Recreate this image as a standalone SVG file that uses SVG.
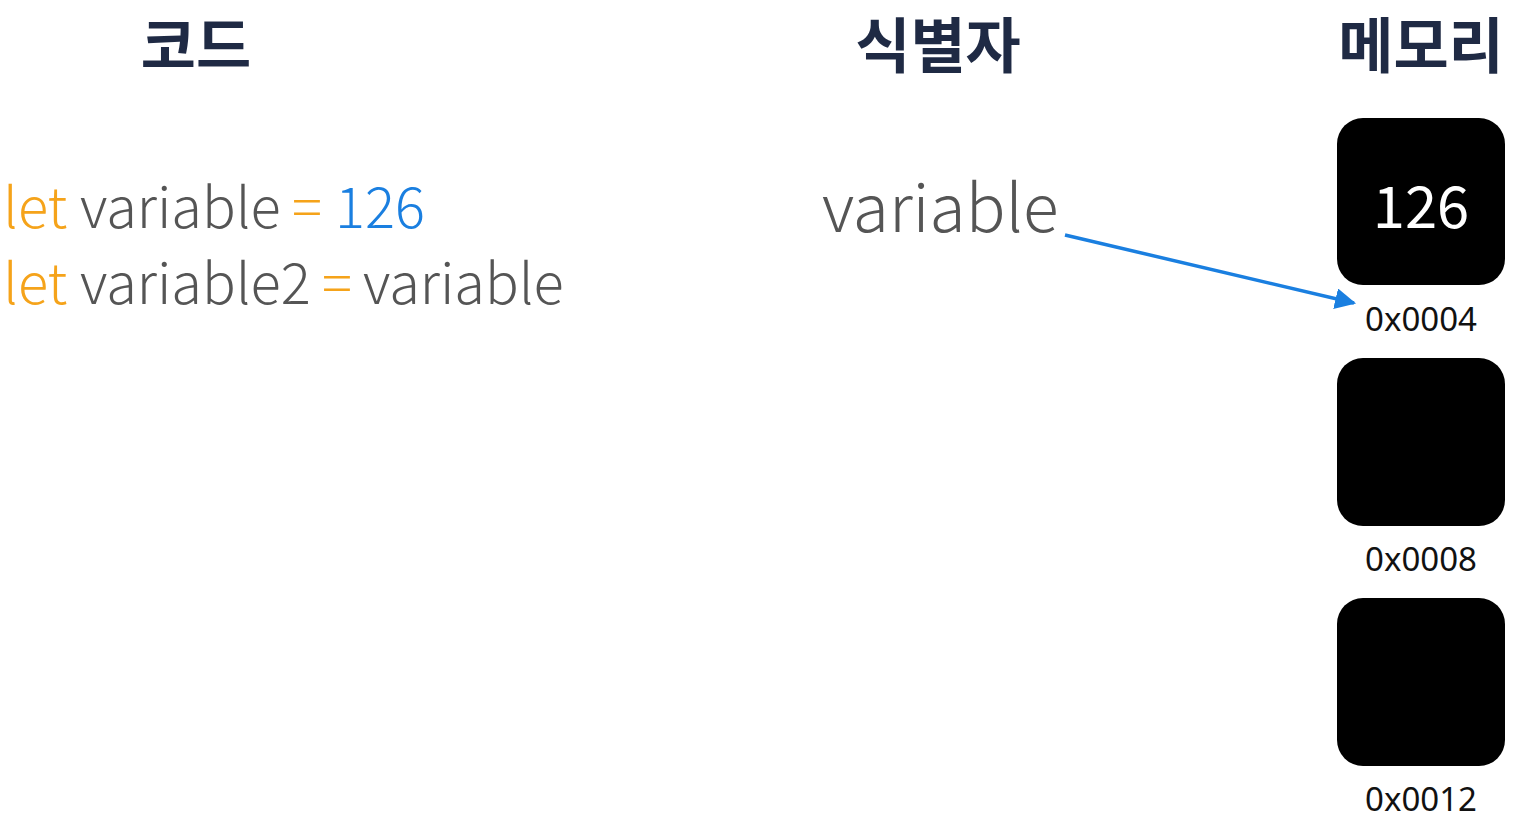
<svg xmlns="http://www.w3.org/2000/svg" width="1526" height="832" viewBox="0 0 1526 832">
<style>
.h{font-family:"Noto Sans CJK KR","Noto Sans",sans-serif;font-weight:700;font-size:60px;fill:#1f2a44;text-anchor:middle}
.c{font-family:"Noto Sans CJK KR","Noto Sans",sans-serif;font-weight:300;font-size:56px}
.id{font-size:66px}
.k{fill:#f5a31a}.g{fill:#555}.b{fill:#1a7fe0}
.box{fill:#000}
.addr{font-family:"Noto Sans","Open Sans",sans-serif;font-size:33px;fill:#111;text-anchor:middle}
.val{font-family:"Noto Sans CJK KR","Noto Sans",sans-serif;font-size:58px;fill:#fff;text-anchor:middle}
</style>
<defs>
<marker id="ah" viewBox="0 0 10 10" refX="9" refY="5" markerWidth="6" markerHeight="6" orient="auto" markerUnits="strokeWidth">
<path d="M0,0 L10,5 L0,10 z" fill="#1a7fe0"/>
</marker>
</defs>
<rect width="1526" height="832" fill="#fff"/>
<g id="headers">
<text class="h" x="196" y="68">코드</text>
<text class="h" x="938" y="68">식별자</text>
<text class="h" x="1421" y="68">메모리</text>
</g>
<g id="code">
<text class="c" y="228"><tspan class="k" x="3">let</tspan><tspan class="g" x="80">variable</tspan><tspan class="k" x="292">=</tspan><tspan class="b" x="335">126</tspan></text>
<text class="c" y="304"><tspan class="k" x="3">let</tspan><tspan class="g" x="80">variable2</tspan><tspan class="k" x="322">=</tspan><tspan class="g" x="363">variable</tspan></text>
</g>
<g id="identifier">
<text class="c id g" x="822" y="232">variable</text>
</g>
<g id="mem1">
<rect class="box" x="1337" y="118" width="168" height="167" rx="26"/>
<text class="val" x="1421" y="228">126</text>
<text class="addr" x="1421" y="331">0x0004</text>
</g>
<g id="mem2">
<rect class="box" x="1337" y="358" width="168" height="168" rx="26"/>
<text class="addr" x="1421" y="571">0x0008</text>
</g>
<g id="mem3">
<rect class="box" x="1337" y="598" width="168" height="168" rx="26"/>
<text class="addr" x="1421" y="811">0x0012</text>
</g>
<g id="connectors">
<line x1="1065" y1="235" x2="1354" y2="303" stroke="#1a7fe0" stroke-width="3.5" marker-end="url(#ah)"/>
</g>
</svg>
